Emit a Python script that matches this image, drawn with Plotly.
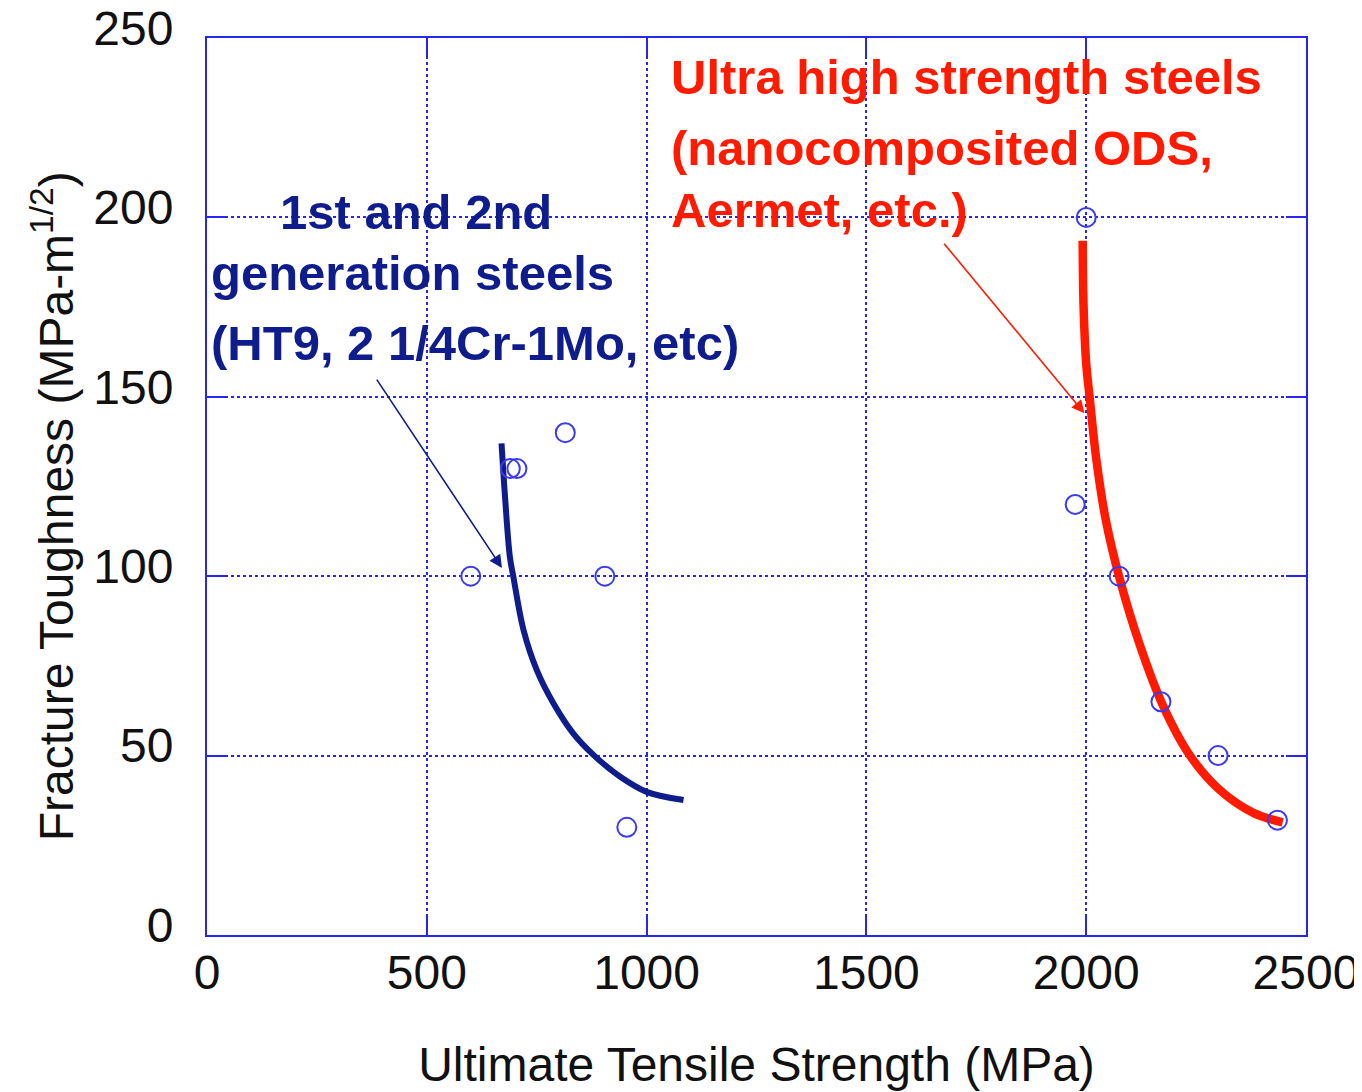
import plotly.graph_objects as go

# Measured data points (UTS in MPa, fracture toughness in MPa-m^1/2)
conv_uts = [600, 690, 705, 815, 905, 955]
conv_kic = [100, 130, 130, 140, 100, 30]

uhs_uts = [2000, 1975, 2075, 2170, 2300, 2435]
uhs_kic = [200, 120, 100, 65, 50, 32]

# Hand-drawn trend curves
conv_curve_x = [670, 678, 689, 697, 720, 750, 788, 833, 879, 940, 1000, 1084]
conv_curve_y = [137, 122, 105.4, 99.8, 85, 73.9, 64.6, 56.2, 50.2, 44.1, 39.9, 37.6]

uhs_curve_x = [1992, 1994, 2000, 2008, 2023, 2045, 2076, 2121, 2174, 2235, 2303, 2379, 2447]
uhs_curve_y = [193.5, 175.4, 159.3, 149.7, 132.6, 115.4, 99.4, 81.2, 64.1, 50.2, 40.5, 34.1, 31.4]

x_ticks = [0, 500, 1000, 1500, 2000, 2500]
y_ticks = [0, 50, 100, 150, 200, 250]

NAVY = "#0f1c8c"
RED = "#ff1a00"
AXBLUE = "#2626f0"
MARK = "#3a3af0"

fig = go.Figure()
fig.add_trace(go.Scatter(x=conv_curve_x, y=conv_curve_y, mode="lines",
                         line=dict(color=NAVY, width=6, shape="spline", smoothing=1.0),
                         showlegend=False, hoverinfo="skip"))
fig.add_trace(go.Scatter(x=uhs_curve_x, y=uhs_curve_y, mode="lines",
                         line=dict(color=RED, width=8.5, shape="spline", smoothing=1.0),
                         showlegend=False, hoverinfo="skip"))
fig.add_trace(go.Scatter(x=conv_uts, y=conv_kic, mode="markers",
                         marker=dict(symbol="circle-open", size=19, color=MARK, line=dict(width=2)),
                         showlegend=False))
fig.add_trace(go.Scatter(x=uhs_uts, y=uhs_kic, mode="markers",
                         marker=dict(symbol="circle-open", size=19, color=MARK, line=dict(width=2)),
                         showlegend=False))

tfont = dict(family="Liberation Sans, Arial, sans-serif", size=48, color="#111111")

fig.update_layout(
    width=1354, height=1084,
    margin=dict(l=199, r=56, t=30, b=157),
    paper_bgcolor="white", plot_bgcolor="white",
    font=tfont,
    xaxis=dict(range=[0, 2500], tickvals=x_ticks, ticks="inside", ticklen=20, tickwidth=2,
               tickcolor=AXBLUE, showline=True, linecolor=AXBLUE, linewidth=2, mirror="ticks",
               showgrid=True, gridcolor=AXBLUE, gridwidth=2, griddash="dot", zeroline=False,
               tickfont=tfont, ticklabelstandoff=-6, automargin=False, ticklabeloverflow="allow",
               title=dict(text="Ultimate Tensile Strength (MPa)", font=tfont, standoff=50)),
    yaxis=dict(range=[0, 250], tickvals=y_ticks, ticks="inside", ticklen=20, tickwidth=2,
               tickcolor=AXBLUE, showline=True, linecolor=AXBLUE, linewidth=2, mirror="ticks",
               showgrid=True, gridcolor=AXBLUE, gridwidth=2, griddash="dot", zeroline=False,
               tickfont=tfont, ticklabelstandoff=22, ticklabelshift=-10, automargin=False,
               ticklabeloverflow="allow"),
)

# y-axis title (placed as rotated text so it can sit slightly below centre like the original)
fig.add_annotation(x=0, y=0.478, xref="paper", yref="paper", xshift=-154,
                   text="Fracture Toughness (MPa-m<sup>1/2</sup>)", textangle=-90,
                   showarrow=False, font=tfont, xanchor="center", yanchor="middle")

bfont = dict(family="Liberation Sans, Arial, sans-serif", size=49, color=NAVY, weight="bold")
rfont = dict(family="Liberation Sans, Arial, sans-serif", size=49, color=RED, weight="bold")

fig.add_annotation(x=475, y=201.5, text="1st and 2nd", showarrow=False, font=bfont,
                   xanchor="center", yanchor="middle")
fig.add_annotation(x=4, y=184.5, text="generation steels", showarrow=False, font=bfont,
                   xanchor="left", yanchor="middle")
fig.add_annotation(x=4, y=165, text="(HT9, 2 1/4Cr-1Mo, etc)", showarrow=False, font=bfont,
                   xanchor="left", yanchor="middle")

fig.add_annotation(x=1052, y=239, text="Ultra high strength steels", showarrow=False, font=rfont,
                   xanchor="left", yanchor="middle")
fig.add_annotation(x=1052, y=219.3, text="(nanocomposited ODS,", showarrow=False, font=rfont,
                   xanchor="left", yanchor="middle")
fig.add_annotation(x=1052, y=202, text="Aermet, etc.)", showarrow=False, font=rfont,
                   xanchor="left", yanchor="middle")

# arrows
fig.add_annotation(x=671, y=102.3, ax=384, ay=155.2, xref="x", yref="y", axref="x", ayref="y",
                   showarrow=True, arrowhead=2, arrowsize=1.6, arrowwidth=1.6, arrowcolor=NAVY, text="")
fig.add_annotation(x=1996, y=145.4, ax=1674, ay=193.1, xref="x", yref="y", axref="x", ayref="y",
                   showarrow=True, arrowhead=2, arrowsize=1.6, arrowwidth=1.6, arrowcolor=RED, text="")

fig.write_html("out.html")
